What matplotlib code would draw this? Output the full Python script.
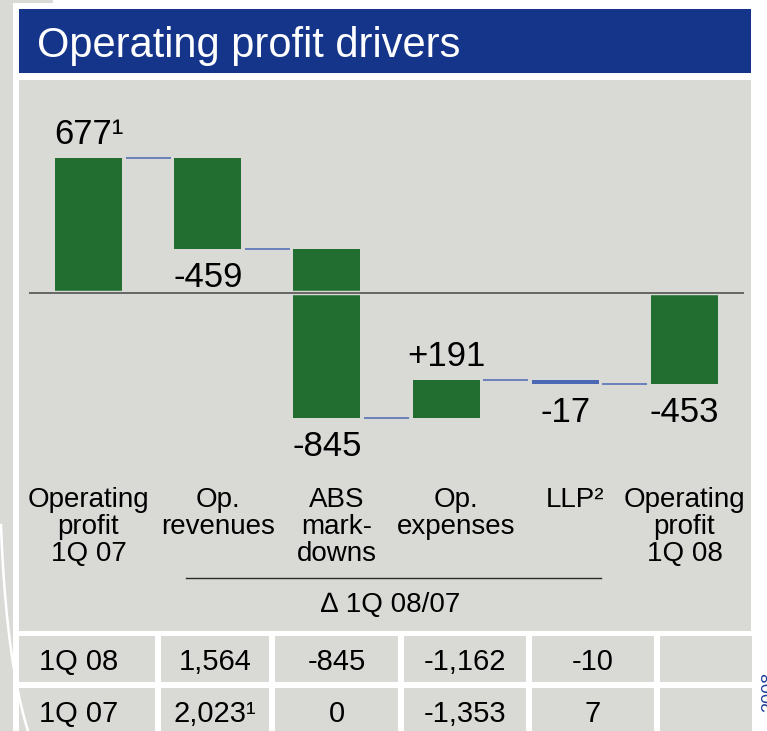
import matplotlib
matplotlib.use("Agg")
import matplotlib.pyplot as plt
from matplotlib.patches import Rectangle
from matplotlib.lines import Line2D
from matplotlib.transforms import blended_transform_factory
import numpy as np

plt.rcParams['font.family'] = ['Liberation Sans', 'DejaVu Sans']

# ---------------- data ----------------
title = "Operating profit drivers"
categories = ["Operating\nprofit\n1Q 07", "Op.\nrevenues", "ABS\nmark-\ndowns",
              "Op.\nexpenses", "LLP²", "Operating\nprofit\n1Q 08"]
values = [677, -459, -845, 191, -17, -453]
is_total = [True, False, False, False, False, True]
value_labels = ["677¹", "-459", "-845", "+191", "-17", "-453"]
delta_label = "∆ 1Q 08/07"
table_row_labels = ["1Q 08", "1Q 07"]
table_1q08 = ["1,564", "-845", "-1,162", "-10", ""]
table_1q07 = ["2,023¹", "0", "-1,353", "7", ""]
side_note = "2008"

# ---------------- style ----------------
W, H, DPI = 767, 731, 100
GRAY = "#d9dad6"
BLUE = "#14358a"
GREEN = "#226e30"
CONN = "#4a68b4"
BASE = "#5c5c5c"

fig = plt.figure(figsize=(W / DPI, H / DPI), dpi=DPI, facecolor="white")


def fx(x):
    return x / W


def fy(y):
    return 1 - y / H


def frect(x0, y0, x1, y1, color, z=0):
    fig.patches.append(Rectangle((fx(x0), fy(y1)), (x1 - x0) / W, (y1 - y0) / H,
                                 transform=fig.transFigure, facecolor=color,
                                 edgecolor="none", zorder=z))


def ftext(x, y, s, **kw):
    fig.text(fx(x), fy(y), s, **kw)


# page background pieces
frect(0, 0, 13, H, GRAY)
frect(0, 0, 53, 3, GRAY)
# title bar
frect(19, 9, 751, 73, BLUE)
ftext(37, 57, title, color="white", fontsize=30, va="baseline", ha="left")
# chart panel
frect(19, 80, 751, 631, GRAY)

# table cells
col_bounds = [(19, 155), (161, 269), (275, 398), (404, 526), (532, 654), (660, 752)]
row_bounds = [(636, 682), (688, 731)]
row_baselines = [670, 722]
for (y0, y1) in row_bounds:
    for (x0, x1) in col_bounds:
        frect(x0, y0, x1, y1, GRAY)

for r, (lab, vals) in enumerate(zip(table_row_labels, [table_1q08, table_1q07])):
    ftext(39, row_baselines[r], lab, fontsize=21, ha="left", va="baseline", color="black")
    for c, v in enumerate(vals):
        x0, x1 = col_bounds[c + 1]
        ftext((x0 + x1) / 2, row_baselines[r], v, fontsize=21, ha="center",
              va="baseline", color="black")

# decorative white arc at bottom left
t = np.linspace(0, 1, 50)
ax_pts = (1 - t) ** 2 * 1 + 2 * (1 - t) * t * 6 + t ** 2 * 28
ay_pts = (1 - t) ** 2 * 525 + 2 * (1 - t) * t * 660 + t ** 2 * 731
fig.lines.append(Line2D(fx(ax_pts), fy(ay_pts), transform=fig.transFigure,
                        color="white", lw=1.8, zorder=5))

# side note (cut off at right edge, as in the source slide)
ftext(761, 712, side_note, fontsize=13, color="#1f3f9a", rotation=90,
      ha="left", va="bottom")

# ---------------- chart axes ----------------
x_left_px, x_right_px = 19, 751
y_top_px, y_bot_px = 80, 470
base_px = 293
scale = 5.0          # units per pixel
cx0, step = 88.5, 119.2
ax = fig.add_axes([fx(x_left_px), fy(y_bot_px), (x_right_px - x_left_px) / W,
                   (y_bot_px - y_top_px) / H])
ax.set_zorder(10)
ax.set_facecolor("none")
ax.patch.set_alpha(0)
ax.set_xlim((x_left_px - cx0) / step, (x_right_px - cx0) / step)
ax.set_ylim(-(y_bot_px - base_px) * scale, (base_px - y_top_px) * scale)
ax.axis("off")

x = np.arange(len(values))
bw = 0.562
starts, ends = [], []
cum = 0
for v, tot in zip(values, is_total):
    if tot:
        s, e = 0, v
    else:
        s, e = cum, cum + v
    cum = e
    starts.append(s)
    ends.append(e)

for i in range(len(values)):
    lo = min(starts[i], ends[i])
    h = abs(ends[i] - starts[i])
    col = GREEN if h / scale > 5 else CONN
    ax.bar(x[i], h, bottom=lo, width=bw, color=col, edgecolor="none", zorder=2)

# connectors
gap = 0.03
for i in range(len(values) - 1):
    ax.plot([x[i] + bw / 2 + gap, x[i + 1] - bw / 2 - gap], [ends[i], ends[i]],
            color=CONN, lw=1.1, zorder=2, solid_capstyle="butt")

# baseline with a gap band
ax.plot([-0.5, 5.5], [0, 0], color=GRAY, lw=3.2, zorder=3, solid_capstyle="butt")
ax.plot([-0.5, 5.5], [0, 0], color=BASE, lw=1.3, zorder=4, solid_capstyle="butt")

# value labels
for i, lab in enumerate(value_labels):
    up = values[i] > 0
    off = 14 if up else -38
    ax.annotate(lab, (x[i], ends[i]), xytext=(0, off), textcoords="offset pixels",
                ha="center", va="baseline", fontsize=25, color="black", zorder=5,
                annotation_clip=False)

# category labels
trans = blended_transform_factory(ax.transData, fig.transFigure)
for i, cat in enumerate(categories):
    shift = 0.085 if 0 < i < len(categories) - 1 else 0.0
    for k, line in enumerate(cat.split("\n")):
        fig.text(x[i] + shift, fy(507 + 27 * k), line, transform=trans,
                 ha="center", va="baseline", fontsize=20, color="black")

# delta header line and label
fig.lines.append(Line2D([fx(186), fx(601)], [fy(578), fy(578)], transform=fig.transFigure,
                        color="#2a2a2a", lw=1.0))
ftext(391, 612, delta_label, fontsize=20, ha="center", va="baseline", color="black")

fig.savefig("out.png", dpi=DPI, facecolor="white")
